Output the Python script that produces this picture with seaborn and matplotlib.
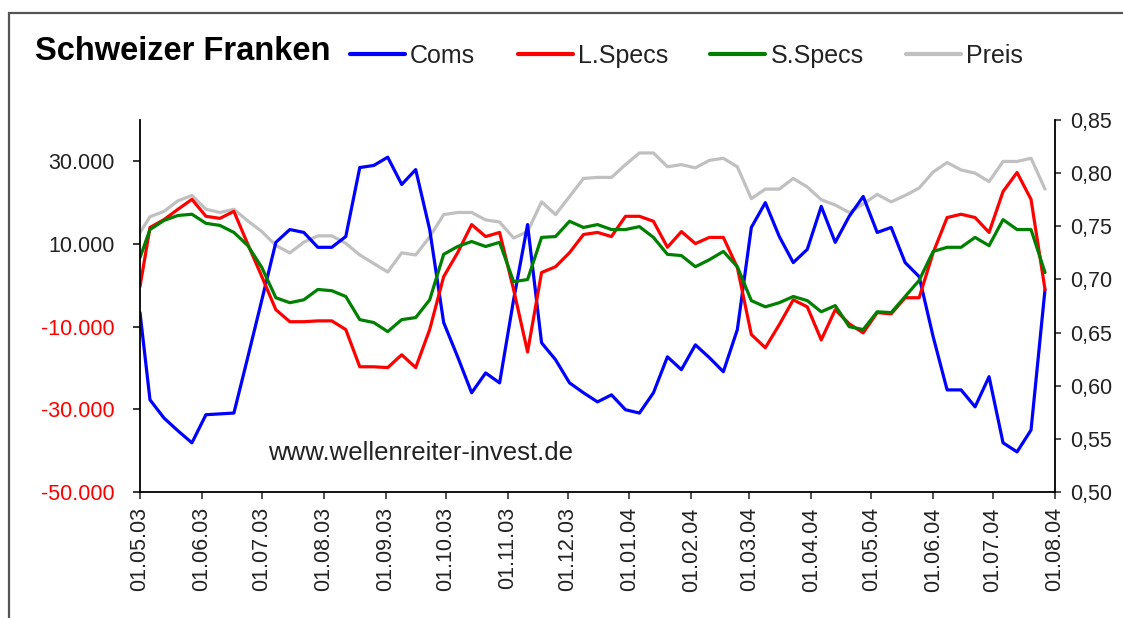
import numpy as np
import pandas as pd
import matplotlib
matplotlib.use('Agg')
import matplotlib.pyplot as plt
import matplotlib.dates as mdates
from matplotlib.lines import Line2D
from matplotlib.patches import Rectangle
import seaborn as sns

sns.set_style('white')
plt.rcParams['font.family'] = ['Liberation Sans', 'DejaVu Sans']

# ---------------- data ----------------
title = 'Schweizer Franken'
series_names = ['Coms', 'L.Specs', 'S.Specs', 'Preis']
first_date = '2003-05-01'
weekly_start = '2003-05-06'
n_weekly = 65

coms = [-6600, -27700, -32100, -35200, -38100, -31300, -31100, -30900, -17300, -3500,
        10400, 13500, 12800, 9200, 9200, 11800, 28500, 29000, 31000, 24400,
        28000, 13500, -9000, -17300, -26000, -21200, -23600, -3500, 14700, -13900,
        -18000, -23600, -26000, -28200, -26500, -30100, -30900, -26000, -17300, -20400,
        -14400, -17500, -20900, -10700, 14000, 20000, 11800, 5500, 8700, 19100,
        10400, 16700, 21500, 12800, 14000, 5500, 2100, -12400, -25300, -25300,
        -29400, -22100, -38100, -40300, -35000, -1000]

l_specs = [-300, 14000, 15900, 18400, 20800, 16700, 16200, 17900, 9900, 2100,
           -5900, -8800, -8800, -8600, -8600, -10700, -19700, -19700, -19900, -16800,
           -19900, -10700, 2100, 7900, 14700, 11800, 12800, -1000, -16100, 3100,
           4500, 7900, 12300, 12800, 11800, 16700, 16700, 15500, 9200, 13000,
           10100, 11600, 11600, 4300, -11900, -15100, -9500, -3500, -5200, -13200,
           -5900, -9300, -11500, -6600, -6900, -3000, -3000, 7900, 16400, 17200,
           16400, 12800, 22700, 27300, 20800, -1000]

s_specs = [6700, 13500, 15700, 16900, 17200, 15000, 14500, 12800, 9600, 4300,
           -3000, -4200, -3500, -1000, -1300, -2700, -8300, -9000, -11200, -8300,
           -7800, -3500, 7500, 9400, 10600, 9400, 10400, 900, 1400, 11600,
           11800, 15500, 14000, 14700, 13500, 13500, 14200, 11600, 7500, 7200,
           4500, 6200, 8200, 4500, -3700, -5200, -4200, -2700, -3700, -6400,
           -4900, -10000, -10700, -6400, -6600, -2700, 1200, 8200, 9200, 9200,
           11600, 9600, 15900, 13500, 13500, 3100]

preis = [0.744, 0.759, 0.764, 0.774, 0.779, 0.766, 0.763, 0.766, 0.755, 0.745,
         0.732, 0.725, 0.735, 0.741, 0.741, 0.734, 0.723, 0.715, 0.707, 0.725,
         0.723, 0.740, 0.761, 0.763, 0.763, 0.756, 0.754, 0.739, 0.745, 0.773,
         0.761, 0.778, 0.795, 0.796, 0.796, 0.808, 0.819, 0.819, 0.806, 0.808,
         0.805, 0.812, 0.814, 0.806, 0.776, 0.785, 0.785, 0.795, 0.787, 0.775,
         0.770, 0.763, 0.771, 0.780, 0.773, 0.779, 0.786, 0.801, 0.810, 0.803,
         0.800, 0.792, 0.811, 0.811, 0.814, 0.785]

left_ticks = [-50000, -30000, -10000, 10000, 30000]
right_ticks = [0.50, 0.55, 0.60, 0.65, 0.70, 0.75, 0.80, 0.85]
watermark = 'www.wellenreiter-invest.de'

dates = [pd.Timestamp(first_date)] + list(pd.date_range(weekly_start, periods=n_weekly, freq='7D'))
df = pd.DataFrame({'date': dates, 'Coms': coms, 'L.Specs': l_specs,
                   'S.Specs': s_specs, 'Preis': preis})

colors = {'Coms': '#0000ff', 'L.Specs': '#ff0000', 'S.Specs': '#008000', 'Preis': '#c0c0c0'}

# ---------------- figure ----------------
W, H = 1123, 618
fig = plt.figure(figsize=(W / 100, H / 100), dpi=100)
fig.patch.set_facecolor('white')
ax = fig.add_axes([140 / W, 1 - 492 / H, (1055 - 140) / W, (492 - 120) / H])
ax2 = ax.twinx()

lw = 2.3
sns.lineplot(data=df, x='date', y='Preis', ax=ax2, color=colors['Preis'], linewidth=lw)
for name in ['Coms', 'L.Specs', 'S.Specs']:
    sns.lineplot(data=df, x='date', y=name, ax=ax, color=colors[name], linewidth=lw)

ax.set_zorder(ax2.get_zorder() + 1)
ax.patch.set_visible(False)

ax.set_xlim(pd.Timestamp('2003-05-01'), pd.Timestamp('2004-08-01'))
ax.set_ylim(-50000, 40000)
ax2.set_ylim(0.50, 0.85)
for a in (ax, ax2):
    a.set_xlabel('')
    a.set_ylabel('')
    a.grid(False)

ax.xaxis.set_major_locator(mdates.MonthLocator(bymonthday=1))
ax.xaxis.set_major_formatter(mdates.DateFormatter('%d.%m.%y'))

ax.set_yticks(left_ticks)
ax.set_yticklabels([f"{v:,.0f}".replace(',', '.') for v in left_ticks])
for lab, v in zip(ax.get_yticklabels(), left_ticks):
    lab.set_color('#ff0000' if v < 0 else '#222222')

ax2.set_yticks(right_ticks)
ax2.set_yticklabels([f"{v:.2f}".replace('.', ',') for v in right_ticks])

tick_fs = 15.5
ax.tick_params(axis='y', direction='out', length=5, width=1.1, pad=13,
               labelsize=tick_fs, left=True, color='#000000')
ax.tick_params(axis='x', direction='out', length=5, width=1.1, pad=6,
               labelsize=tick_fs, labelrotation=90, bottom=True, colors='#222222')
ax2.tick_params(axis='y', direction='out', length=4, width=1.1, pad=7,
                labelsize=tick_fs, right=True, colors='#222222')
for lab in ax.get_xticklabels():
    lab.set_color('#222222')

for a in (ax, ax2):
    a.spines['top'].set_visible(False)
    for s in ['left', 'right', 'bottom']:
        a.spines[s].set_color('#000000')
        a.spines[s].set_linewidth(1.3)
ax.spines['right'].set_visible(False)
ax2.spines['left'].set_visible(False)
ax2.spines['bottom'].set_visible(False)

ax.text((268 - 140) / 915, (492 - 453) / 372, watermark, transform=ax.transAxes,
        fontsize=18.5, color='#222222', va='center', ha='left')

# title and legend
fig.text(35 / W, 1 - 52 / H, title, fontsize=23.5, fontweight='bold', va='center',
         ha='left', color='#000000')
handles = [Line2D([], [], color=colors[n], lw=3) for n in series_names]
fig.legend(handles, series_names, loc='center left', bbox_to_anchor=(350 / W, 1 - 56 / H),
           ncol=4, frameon=False, fontsize=18, handlelength=2.2, handletextpad=0.2,
           columnspacing=1.7, borderaxespad=0, borderpad=0, labelcolor='#222222')

# outer frame
fig.patches.append(Rectangle((9 / W, -0.05), 1.2, 1 - 13 / H + 0.05, transform=fig.transFigure,
                             fill=False, edgecolor='#555555', linewidth=1.6))

fig.savefig('out.png', dpi=100, facecolor='white')
